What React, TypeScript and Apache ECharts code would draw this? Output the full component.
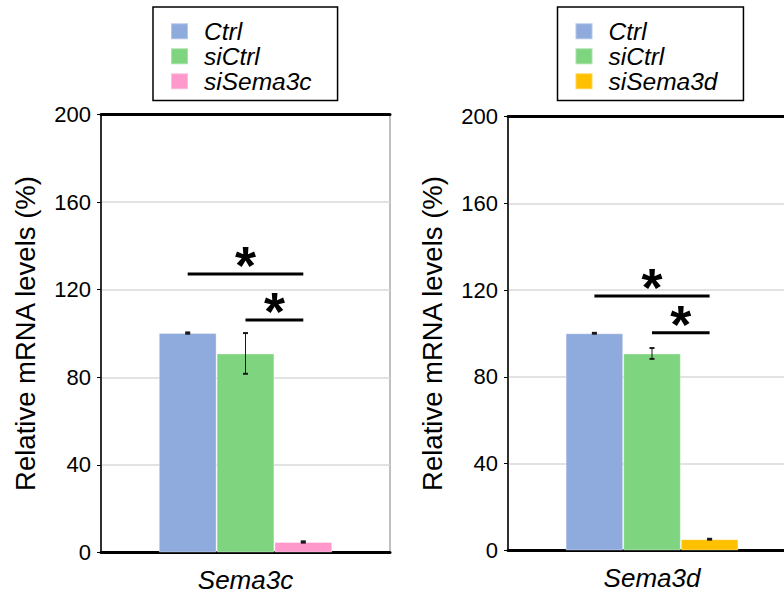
import React, { useEffect, useRef } from "react";
import * as echarts from "echarts";

const FONT = "'Liberation Sans', Arial, Helvetica, sans-serif";

const categoriesLeft = ["Sema3c"];
const categoriesRight = ["Sema3d"];
const namesLeft = ["Ctrl", "siCtrl", "siSema3c"];
const namesRight = ["Ctrl", "siCtrl", "siSema3d"];
const valuesLeft = [100.2, 90.9, 4.8];
const errorsLeft = [0.3, 9.3, 0.3];
const valuesRight = [100.1, 90.8, 5.2];
const errorsRight = [0.2, 2.5, 0.2];
const sigLeft = [
  { from: 0, to: 2, height: 127.2 },
  { from: 1, to: 2, height: 106.2 },
];
const sigRight = [
  { from: 0, to: 2, height: 117.3 },
  { from: 1, to: 2, height: 100.4 },
];
const yMin = 0;
const yMax = 200;
const yInterval = 40;
const yAxisName = "Relative mRNA levels (%)";
const colorsLeft = ["#8FAADC", "#7FD47F", "#FF99CC"];
const colorsRight = ["#8FAADC", "#7FD47F", "#FFC000"];

const GAP = 0.4;

function errorRender(params: any, api: any) {
  const cat = api.value(0);
  const mean = api.value(1);
  const err = api.value(2);
  const idx = api.value(3);
  const c = api.coord([cat, mean]);
  const band = api.size([1, 0])[0];
  const bw = (band * (1 - GAP)) / 3;
  const x = c[0] + (idx - 1) * bw;
  const top = api.coord([cat, mean + err])[1];
  const bot = api.coord([cat, mean - err])[1];
  const st = { stroke: "#1a1a1a", lineWidth: 1 };
  const cap = { stroke: "#1a1a1a", lineWidth: 2 };
  return {
    type: "group",
    children: [
      { type: "line", shape: { x1: x, y1: top, x2: x, y2: bot }, style: st },
      { type: "line", shape: { x1: x - 2.5, y1: top, x2: x + 2.5, y2: top }, style: cap },
      { type: "line", shape: { x1: x - 2.5, y1: bot, x2: x + 2.5, y2: bot }, style: cap },
    ],
  };
}

function sigRender(params: any, api: any) {
  const h = api.value(1);
  const a = api.value(2);
  const b = api.value(3);
  const c = api.coord([0, h]);
  const band = api.size([1, 0])[0];
  const bw = (band * (1 - GAP)) / 3;
  const xA = c[0] + (a - 1) * bw;
  const xB = c[0] + (b - 1) * bw;
  return {
    type: "group",
    children: [
      { type: "line", shape: { x1: xA, y1: c[1], x2: xB, y2: c[1] }, style: { stroke: "#000", lineWidth: 3 } },
      {
        type: "text",
        x: (xA + xB) / 2,
        y: c[1] - 9,
        style: {
          text: "*",
          fontSize: 54,
          fontWeight: "bold",
          fontFamily: FONT,
          fill: "#000",
          align: "center",
          verticalAlign: "middle",
        },
      },
    ],
  };
}

export default function App() {
  const ref = useRef<HTMLDivElement>(null);
  useEffect(() => {
    if (!ref.current) return;
    const chart = echarts.init(ref.current, undefined, { renderer: "svg" });
    const grids = [
      { left: 101, top: 114.5, width: 289, height: 438 },
      { left: 508, top: 116.5, width: 288, height: 434 },
    ];
    const mkYAxis = (gi: number) => ({
      type: "value",
      gridIndex: gi,
      min: yMin,
      max: yMax,
      interval: yInterval,
      name: yAxisName,
      nameLocation: "middle",
      nameGap: 62,
      nameTextStyle: { fontSize: 27.5, color: "#000", fontFamily: FONT },
      axisLine: { show: true, lineStyle: { color: "#000", width: 1.5 } },
      axisTick: { show: true, length: 4, lineStyle: { color: "#000", width: 1 } },
      axisLabel: { fontSize: 22, color: "#000", fontFamily: FONT, margin: 10 },
      splitLine: { show: true, lineStyle: { color: "#d9d9d9", width: 1.5 } },
    });
    const mkXAxis = (gi: number, cats: string[]) => ({
      type: "category",
      gridIndex: gi,
      data: cats,
      position: "bottom",
      axisLine: { show: true, lineStyle: { color: "#000", width: 3 } },
      axisTick: { show: false },
      axisLabel: { fontSize: 26, fontStyle: "italic", color: "#000", fontFamily: FONT, margin: 14 },
      splitLine: { show: false },
    });
    const mkTopAxis = (gi: number, cats: string[]) => ({
      type: "category",
      gridIndex: gi,
      data: cats,
      position: "top",
      axisLine: { show: true, lineStyle: { color: "#000", width: 3 } },
      axisTick: { show: false },
      axisLabel: { show: false },
      splitLine: { show: false },
    });
    const mkLegend = (left: number, names: string[]) => ({
      left,
      top: 7,
      orient: "vertical",
      data: names,
      icon: "rect",
      itemWidth: 17,
      itemHeight: 16,
      itemGap: 0,
      borderColor: "#000",
      borderWidth: 1.5,
      padding: [11.75, 26, 6.75, 17],
      selectedMode: false,
      textStyle: {
        fontSize: 24.5,
        fontStyle: "italic",
        color: "#000",
        fontFamily: FONT,
        padding: [0, 0, 0, 11],
      },
    });
    const barSeries = (names: string[], values: number[], colors: string[], axisIdx: number) =>
      names.map((n, i) => ({
        type: "bar",
        name: n,
        xAxisIndex: axisIdx,
        yAxisIndex: axisIdx,
        barGap: "0%",
        barCategoryGap: GAP * 100 + "%",
        data: [values[i]],
        itemStyle: { color: colors[i], borderColor: "rgba(255,255,255,0.35)", borderWidth: 1 },
        z: 2,
      }));
    const errSeries = (values: number[], errors: number[], axisIdx: number) => ({
      type: "custom",
      xAxisIndex: axisIdx,
      yAxisIndex: axisIdx,
      renderItem: errorRender,
      encode: { x: 0, y: 1 },
      data: values.map((v, i) => [0, v, errors[i], i]),
      z: 5,
      silent: true,
    });
    const sigSeries = (sigs: { from: number; to: number; height: number }[], axisIdx: number) => ({
      type: "custom",
      xAxisIndex: axisIdx,
      yAxisIndex: axisIdx,
      renderItem: sigRender,
      encode: { x: 0, y: 1 },
      data: sigs.map((s) => [0, s.height, s.from, s.to]),
      z: 6,
      silent: true,
      clip: false,
    });
    chart.setOption({
      animation: false,
      backgroundColor: "#fff",
      grid: grids.map((g) => ({ ...g, show: true, borderColor: "#808080", borderWidth: 1, backgroundColor: "transparent" })),
      legend: [mkLegend(153, namesLeft), mkLegend(557.5, namesRight)],
      xAxis: [
        mkXAxis(0, categoriesLeft),
        mkXAxis(1, categoriesRight),
        mkTopAxis(0, categoriesLeft),
        mkTopAxis(1, categoriesRight),
      ],
      yAxis: [mkYAxis(0), mkYAxis(1)],
      series: [
        ...barSeries(namesLeft, valuesLeft, colorsLeft, 0),
        ...barSeries(namesRight, valuesRight, colorsRight, 1),
        errSeries(valuesLeft, errorsLeft, 0),
        errSeries(valuesRight, errorsRight, 1),
        sigSeries(sigLeft, 0),
        sigSeries(sigRight, 1),
      ],
    });
    return () => chart.dispose();
  }, []);
  return (
    <div
      style={{
        position: "absolute",
        left: 0,
        top: 0,
        width: 784,
        height: 593,
        overflow: "hidden",
        background: "#fff",
      }}
    >
      <div ref={ref} style={{ position: "absolute", left: 0, top: 0, width: 810, height: 593 }} />
    </div>
  );
}
